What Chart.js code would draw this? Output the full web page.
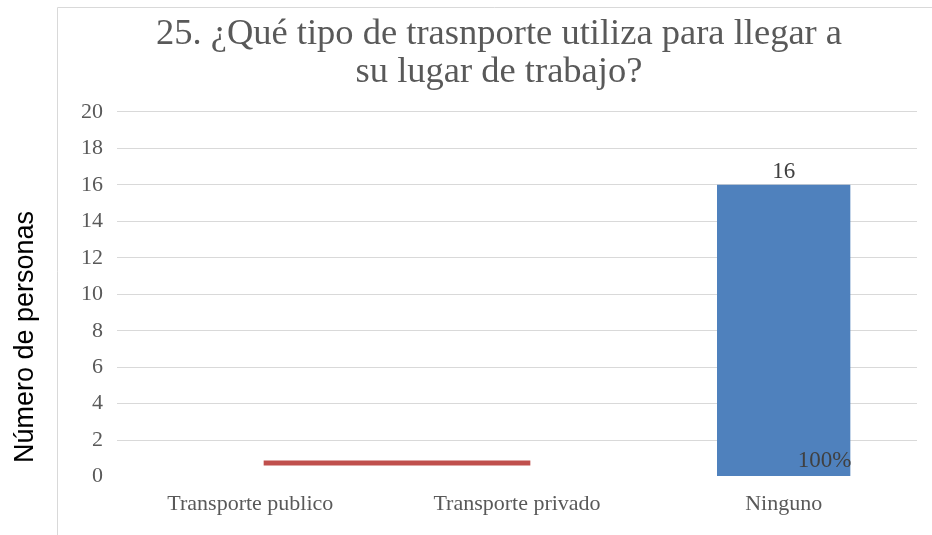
<!DOCTYPE html>
<html>
<head>
<meta charset="utf-8">
<script src="https://cdn.jsdelivr.net/npm/chart.js@4/dist/chart.umd.min.js"></script>
<style>
  body { margin: 0; background: #fff; }
  #wrap { position: relative; width: 932px; height: 535px; }
</style>
</head>
<body>
<div id="wrap"><canvas id="chart"></canvas></div>
<script>
const categories = ["Transporte publico", "Transporte privado", "Ninguno"];
const personas = [0, 0, 16];
const porcentajes = [0, 0, 100];
const yTicks = [0, 2, 4, 6, 8, 10, 12, 14, 16, 18, 20];
// red stroke sitting between the first two categories
const redLineX = [0.05, 1.05];
const redLineY = [0.75, 0.75];

const titleLines = ["25. ¿Qué tipo de trasnporte utiliza para llegar a", "su lugar de trabajo?"];
const yTitle = "Número de personas";

const serif = "'Liberation Serif', serif";

const extras = {
  id: "extras",
  beforeDraw(chart) {
    const ctx = chart.ctx;
    ctx.save();
    ctx.strokeStyle = "#d9d9d9";
    ctx.lineWidth = 1;
    ctx.beginPath();
    ctx.moveTo(57.5, 535);
    ctx.lineTo(57.5, 7.5);
    ctx.lineTo(932, 7.5);
    ctx.stroke();
    ctx.fillStyle = "#000";
    ctx.font = "27px 'Liberation Sans', sans-serif";
    ctx.textAlign = "center";
    ctx.textBaseline = "middle";
    ctx.translate(26, 337);
    ctx.rotate(-Math.PI / 2);
    ctx.fillText(yTitle, 0, 0);
    ctx.restore();
  },
  afterDatasetsDraw(chart) {
    const ctx = chart.ctx;
    const bars = chart.getDatasetMeta(0).data;
    ctx.save();
    ctx.fillStyle = "#404040";
    ctx.font = "23px " + serif;
    bars.forEach((bar, i) => {
      if (!personas[i]) return;
      ctx.textAlign = "center";
      ctx.textBaseline = "bottom";
      ctx.fillText(String(personas[i]), bar.x, bar.y - 1);
      ctx.textAlign = "right";
      ctx.textBaseline = "middle";
      ctx.fillText(porcentajes[i] + "%", bar.x + bar.width / 2 + 1, bar.base - 15);
    });
    ctx.restore();
  },
};

new Chart(document.getElementById("chart"), {
  data: {
    labels: categories,
    datasets: [
      {
        type: "bar",
        label: "Personas",
        data: personas,
        backgroundColor: "#4f81bd",
        grouped: false,
        barPercentage: 0.5,
        categoryPercentage: 1,
      },
      {
        type: "line",
        label: "Porcentaje",
        xAxisID: "x2",
        data: redLineX.map((x, i) => ({ x: x, y: redLineY[i] })),
        borderColor: "#c0504d",
        borderWidth: 5,
        pointRadius: 0,
      },
    ],
  },
  options: {
    responsive: true,
    maintainAspectRatio: false,
    animation: false,
    layout: { padding: { left: 81, right: 15, top: 6, bottom: 12 } },
    plugins: {
      legend: { display: false },
      tooltip: { enabled: false },
      title: {
        display: true,
        text: titleLines,
        color: "#595959",
        font: { family: serif, size: 36.5, weight: "normal", lineHeight: 1.04 },
        padding: { top: 9, bottom: 21 },
      },
    },
    scales: {
      x: {
        grid: { display: false },
        border: { display: false },
        ticks: { color: "#595959", font: { family: serif, size: 22 }, padding: 6 },
      },
      x2: { type: "linear", min: -0.5, max: 2.5, display: false },
      y: {
        min: 0,
        max: 20,
        afterBuildTicks: (scale) => {
          scale.ticks = yTicks.map((v) => ({ value: v }));
        },
        afterFit: (scale) => {
          scale.width = 36;
        },
        border: { display: false },
        grid: {
          drawTicks: false,
          color: (c) => (c.tick && c.tick.value === 0 ? "rgba(0,0,0,0)" : "#d9d9d9"),
        },
        ticks: { color: "#595959", font: { family: serif, size: 22 }, padding: 14 },
      },
    },
  },
  plugins: [extras],
});
</script>
</body>
</html>
